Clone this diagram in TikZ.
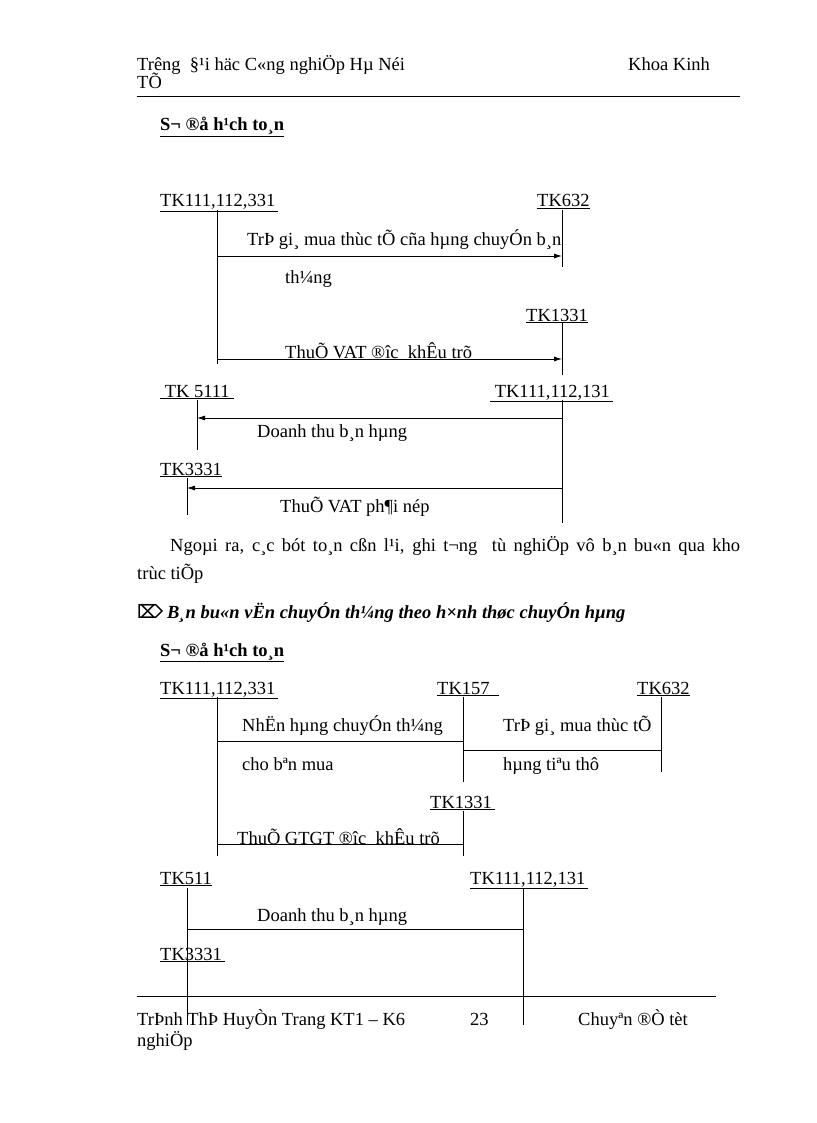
\documentclass[tikz,border=0pt]{standalone}
\usepackage{fontspec}
\setmainfont{Liberation Serif}
\newfontfamily\symfont{DejaVu Sans}
\usetikzlibrary{arrows.meta}
\begin{document}
\begin{tikzpicture}[x=1pt,y=-1pt,font=\fontsize{18.5}{22}\selectfont]
\tikzstyle{txt}=[inner sep=0pt,anchor=base west]
\tikzstyle{acct}=[inner sep=0pt,anchor=base west]
\tikzstyle{ln}=[line width=0.8pt]
\tikzstyle{arr}=[line width=0.8pt,-{Latex[length=8pt,width=5pt]}]
\useasboundingbox (0,0) rectangle (816,1123);

\node[txt] at (137,71) (hd1) {Trêng\ \ §¹i häc C«ng nghiÖp Hµ Néi};
\node[txt] at (137,89) (hd2) {TÕ};
\node[txt] at (628,71) (hd3) {Khoa Kinh};
\coordinate (rl) at (137,96);
\coordinate (rr) at (740,96);
\draw[line width=0.6pt] (rl) -- (rr);

\node[txt,font=\fontsize{18.5}{22}\selectfont\bfseries] at (160,131) (sd1) {\underline{S¬ ®å h¹ch to¸n}};

\node[acct] at (160,207) (a1) {\underline{TK111,112,331\,}};
\node[acct] at (537,207) (a2) {\underline{TK632}};
\node[acct] at (526,321) (a3) {\underline{TK1331}};
\node[acct] at (160,397) (a4) {\underline{\ TK 5111\ }};
\node[acct] at (490,397) (a5) {\underline{\ TK111,112,131\,}};
\node[acct] at (160,475) (a6) {\underline{TK3331}};

\coordinate (v1t) at (217,210); \coordinate (v1b) at (217,364);
\coordinate (v2t) at (562,210); \coordinate (v2b) at (562,267);
\coordinate (v3t) at (562,323); \coordinate (v3b) at (562,375);
\coordinate (v4t) at (197,400); \coordinate (v4b) at (197,450);
\coordinate (v5t) at (562,400); \coordinate (v5b) at (562,523);
\coordinate (v6t) at (187,478); \coordinate (v6b) at (187,515);
\foreach \v in {1,...,6} \draw[ln] (v\v t) -- (v\v b);

\coordinate (p1) at (217,256); \coordinate (q1) at (562,256);
\coordinate (p2) at (217,359); \coordinate (q2) at (562,359);
\coordinate (p3) at (562,418); \coordinate (q3) at (197,418);
\coordinate (p4) at (562,488); \coordinate (q4) at (187,488);
\draw[arr] (p1) -- (q1);
\draw[arr] (p2) -- (q2);
\draw[arr] (p3) -- (q3);
\draw[arr] (p4) -- (q4);

\node[txt] at (247,245) (l1) {TrÞ gi¸ mua thùc tÕ cña hµng chuyÓn b¸n};
\node[txt] at (285,283) (l2) {th¼ng};
\node[txt] at (285,358) (l3) {ThuÕ VAT ®îc\ \ khÊu trõ};
\node[txt] at (257,437) (l4) {Doanh thu b¸n hµng};
\node[txt] at (280,512) (l5) {ThuÕ VAT ph¶i nép};

\node[txt] at (170,551) (par1) {\makebox[570pt][s]{Ngoµi ra, c¸c bót to¸n cßn l¹i, ghi t¬ng\ \ tù nghiÖp vô b¸n bu«n qua kho}};
\node[txt] at (137,579) (par2) {trùc tiÕp};

\node[txt] at (137,618) (ic) {\symfont\bfseries ⌦};
\node[txt,font=\fontsize{18.5}{22}\selectfont\bfseries\itshape] at (167,618) (hd4) {B¸n bu«n vËn chuyÓn th¼ng theo h×nh thøc chuyÓn hµng};
\node[txt,font=\fontsize{18.5}{22}\selectfont\bfseries] at (160,656) (sd2) {\underline{S¬ ®å h¹ch to¸n}};

\node[acct] at (160,694) (b1) {\underline{TK111,112,331\,}};
\node[acct] at (437,694) (b2) {\underline{TK157\ \ }};
\node[acct] at (637,694) (b3) {\underline{TK632}};
\node[acct] at (430,808) (b4) {\underline{TK1331\,}};
\node[acct] at (160,884) (b5) {\underline{TK511}};
\node[acct] at (470,884) (b6) {\underline{TK111,112,131\,}};
\node[acct] at (160,960) (b7) {\underline{TK3331\,}};

\coordinate (w1t) at (217,697); \coordinate (w1b) at (217,856);
\coordinate (w2t) at (463,697); \coordinate (w2b) at (463,782);
\coordinate (w3t) at (661,697); \coordinate (w3b) at (661,772);
\coordinate (w4t) at (463,811); \coordinate (w4b) at (463,856);
\coordinate (w5t) at (187,888); \coordinate (w5b) at (187,1025);
\coordinate (w6t) at (523,888); \coordinate (w6b) at (523,1025);
\foreach \w in {1,...,6} \draw[ln] (w\w t) -- (w\w b);

\coordinate (m1) at (217,741); \coordinate (n1) at (463,741);
\coordinate (m2) at (463,750); \coordinate (n2) at (661,750);
\coordinate (m3) at (217,844); \coordinate (n3) at (463,844);
\coordinate (m4) at (187,929); \coordinate (n4) at (523,929);
\draw[ln] (m1) -- (n1);
\draw[ln] (m2) -- (n2);
\draw[ln] (m3) -- (n3);
\draw[ln] (m4) -- (n4);

\node[txt] at (242,731) (k1) {NhËn hµng chuyÓn th¼ng};
\node[txt] at (242,770) (k2) {cho bªn mua};
\node[txt] at (503,731) (k3) {TrÞ gi¸ mua thùc tÕ};
\node[txt] at (503,770) (k4) {hµng tiªu thô};
\node[txt] at (237,844) (k5) {ThuÕ GTGT ®îc\ \ khÊu trõ};
\node[txt] at (257,921) (k6) {Doanh thu b¸n hµng};

\coordinate (fl) at (137,996);
\coordinate (fr) at (716,996);
\draw[line width=0.6pt] (fl) -- (fr);
\node[txt] at (137,1025) (ft1) {TrÞnh ThÞ HuyÒn Trang KT1 – K6};
\node[txt] at (470,1025) (ft2) {23};
\node[txt] at (578,1025) (ft3) {Chuyªn ®Ò tèt};
\node[txt] at (137,1046) (ft4) {nghiÖp};
\end{tikzpicture}
\end{document}
